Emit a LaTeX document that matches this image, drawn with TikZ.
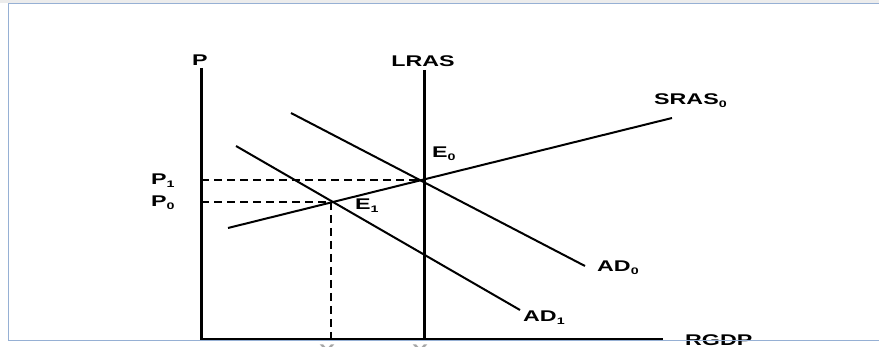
\documentclass[tikz,border=0pt]{standalone}
\usepackage{fontspec}
\setmainfont{Liberation Sans}[FakeStretch=1.5]
\newcommand\lsub[1]{\raisebox{-0.35ex}{\fontsize{9.5}{9.5}\selectfont #1}}
\definecolor{framec}{RGB}{150,176,212}
\begin{document}
\begin{tikzpicture}[x=1pt,y=-1pt,
  axisline/.style={line width=3pt},
  curveline/.style={line width=2pt},
  guide/.style={line width=1.4pt, dash pattern=on 8pt off 5pt},
  lbl/.style={font=\bfseries\fontsize{15.5}{15.5}\selectfont, inner sep=0pt}]
\useasboundingbox (0,0) rectangle (879,347);
\fill[white] (0,0) rectangle (879,347);
% frame
\fill[gray!15] (0,0) rectangle (879,3);
\draw[framec, line width=1pt] (879,3.5) -- (8,3.5) -- (8,341) -- (879,341);
% points
\coordinate (O) at (201,340);
\coordinate (Ptop) at (201,68);
\coordinate (Xend) at (663,340);
\coordinate (Lb) at (424,340);
\coordinate (Lt) at (424,70);
\coordinate (E0) at (424,180);
\coordinate (E1) at (331,202);
\coordinate (S0a) at (228,228);
\coordinate (S0b) at (672,118);
\coordinate (A0a) at (291,113);
\coordinate (A0b) at (585,266);
\coordinate (A1a) at (236,146);
\coordinate (A1b) at (520,310);
\coordinate (P1y) at (201,180);
\coordinate (P0y) at (201,202);
\coordinate (Y1x) at (331,340);
% guides
\draw[guide] (P1y) -- (E0);
\draw[guide] (P0y) -- (E1);
\draw[guide] (E1) -- (Y1x);
% curves
\draw[curveline] (S0a) -- (S0b);
\draw[curveline] (A0a) -- (A0b);
\draw[curveline] (A1a) -- (A1b);
% axes
\draw[axisline] (Ptop) -- (O) -- (Xend);
\draw[axisline] (Lt) -- (Lb);
% labels
\node[lbl] (lP) at (200,60) {P};
\node[lbl] (lL) at (423,61) {LRAS};
\node[lbl, anchor=west] (lS) at (654,101) {SRAS\lsub{0}};
\node[lbl, anchor=west] (lA0) at (597,268) {AD\lsub{0}};
\node[lbl, anchor=west] (lA1) at (523,318) {AD\lsub{1}};
\node[lbl, anchor=west] (lR) at (685,340) {RGDP};
\node[lbl, anchor=west] (lE0) at (432,154) {E\lsub{0}};
\node[lbl, anchor=west] (lE1) at (355,206) {E\lsub{1}};
\node[lbl, anchor=west] (lP1) at (151,181) {P\lsub{1}};
\node[lbl, anchor=west] (lP0) at (151,203) {P\lsub{0}};
\node[lbl, anchor=north, text=black!35] (lY1) at (331,344.5) {Y\lsub{1}};
\node[lbl, anchor=north, text=black!35] (lY0) at (424,344.5) {Y\lsub{0}};
\draw[framec, line width=1pt] (8,341) -- (879,341);
\end{tikzpicture}
\end{document}
